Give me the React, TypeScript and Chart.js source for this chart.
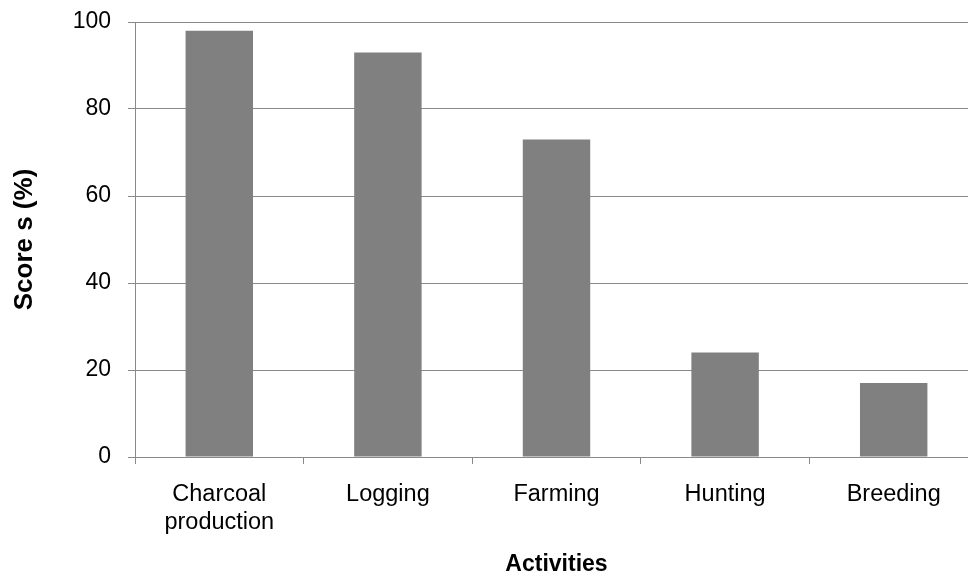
import React, { useEffect, useRef } from "react";
import { Chart, registerables } from "chart.js";

Chart.register(...registerables);

// Activities and their scores (%)
const activities: (string | string[])[] = [
  ["Charcoal", "production"],
  "Logging",
  "Farming",
  "Hunting",
  "Breeding",
];
const scores: number[] = [98, 93, 73, 24, 17];
const yTicks: number[] = [0, 20, 40, 60, 80, 100];

const FONT = "'Liberation Sans', Arial, Helvetica, sans-serif";
const LINE = "#898989";
const BAR = "#808080";

export default function App() {
  const ref = useRef<HTMLCanvasElement | null>(null);

  useEffect(() => {
    if (!ref.current) return;
    const chart = new Chart(ref.current, {
      type: "bar",
      data: {
        labels: activities,
        datasets: [
          {
            label: "Score s (%)",
            data: scores,
            backgroundColor: BAR,
            borderWidth: 0,
            barPercentage: 0.4,
            categoryPercentage: 1,
          },
        ],
      },
      options: {
        responsive: false,
        animation: false,
        events: [],
        layout: { padding: { top: 22, right: 0, left: 0, bottom: 0 } },
        plugins: {
          legend: { display: false },
          tooltip: { enabled: false },
        },
        scales: {
          x: {
            offset: true,
            grid: {
              offset: true,
              drawOnChartArea: false,
              drawTicks: true,
              tickLength: 7,
              color: LINE,
              lineWidth: 1,
            },
            border: { color: LINE, width: 1 },
            ticks: {
              color: "#000",
              font: { family: FONT, size: 23.5, lineHeight: 1.17 },
              padding: 17,
              maxRotation: 0,
              autoSkip: false,
            },
            title: {
              display: true,
              text: "Activities",
              color: "#000",
              font: { family: FONT, size: 23, weight: "bold", lineHeight: 1.2 },
              padding: { top: 0, bottom: 0 },
            },
            afterFit: (scale: any) => {
              scale.height = 121;
              scale.paddingLeft = 0;
              scale.paddingRight = 0;
            },
          },
          y: {
            min: 0,
            max: 100,
            afterBuildTicks: (scale: any) => {
              scale.ticks = yTicks.map((v) => ({ value: v }));
            },
            grid: {
              color: LINE,
              lineWidth: 1,
              drawTicks: true,
              tickLength: 7,
            },
            border: { color: LINE, width: 1 },
            ticks: {
              color: "#000",
              font: { family: FONT, size: 23 },
              padding: 17,
            },
            title: {
              display: true,
              text: "Score s (%)",
              color: "#000",
              font: { family: FONT, size: 26, weight: "bold", lineHeight: 1.2 },
              padding: { top: 9, bottom: 0 },
            },
            afterFit: (scale: any) => {
              scale.width = 135;
              scale.paddingTop = 0;
              scale.paddingBottom = 0;
            },
          },
        },
      },
    });
    return () => chart.destroy();
  }, []);

  return (
    <div
      style={{
        position: "fixed",
        left: 0,
        top: 0,
        width: 968,
        height: 578,
        overflow: "hidden",
        background: "#fff",
      }}
    >
      <canvas ref={ref} width={978} height={578} style={{ display: "block" }} />
    </div>
  );
}
